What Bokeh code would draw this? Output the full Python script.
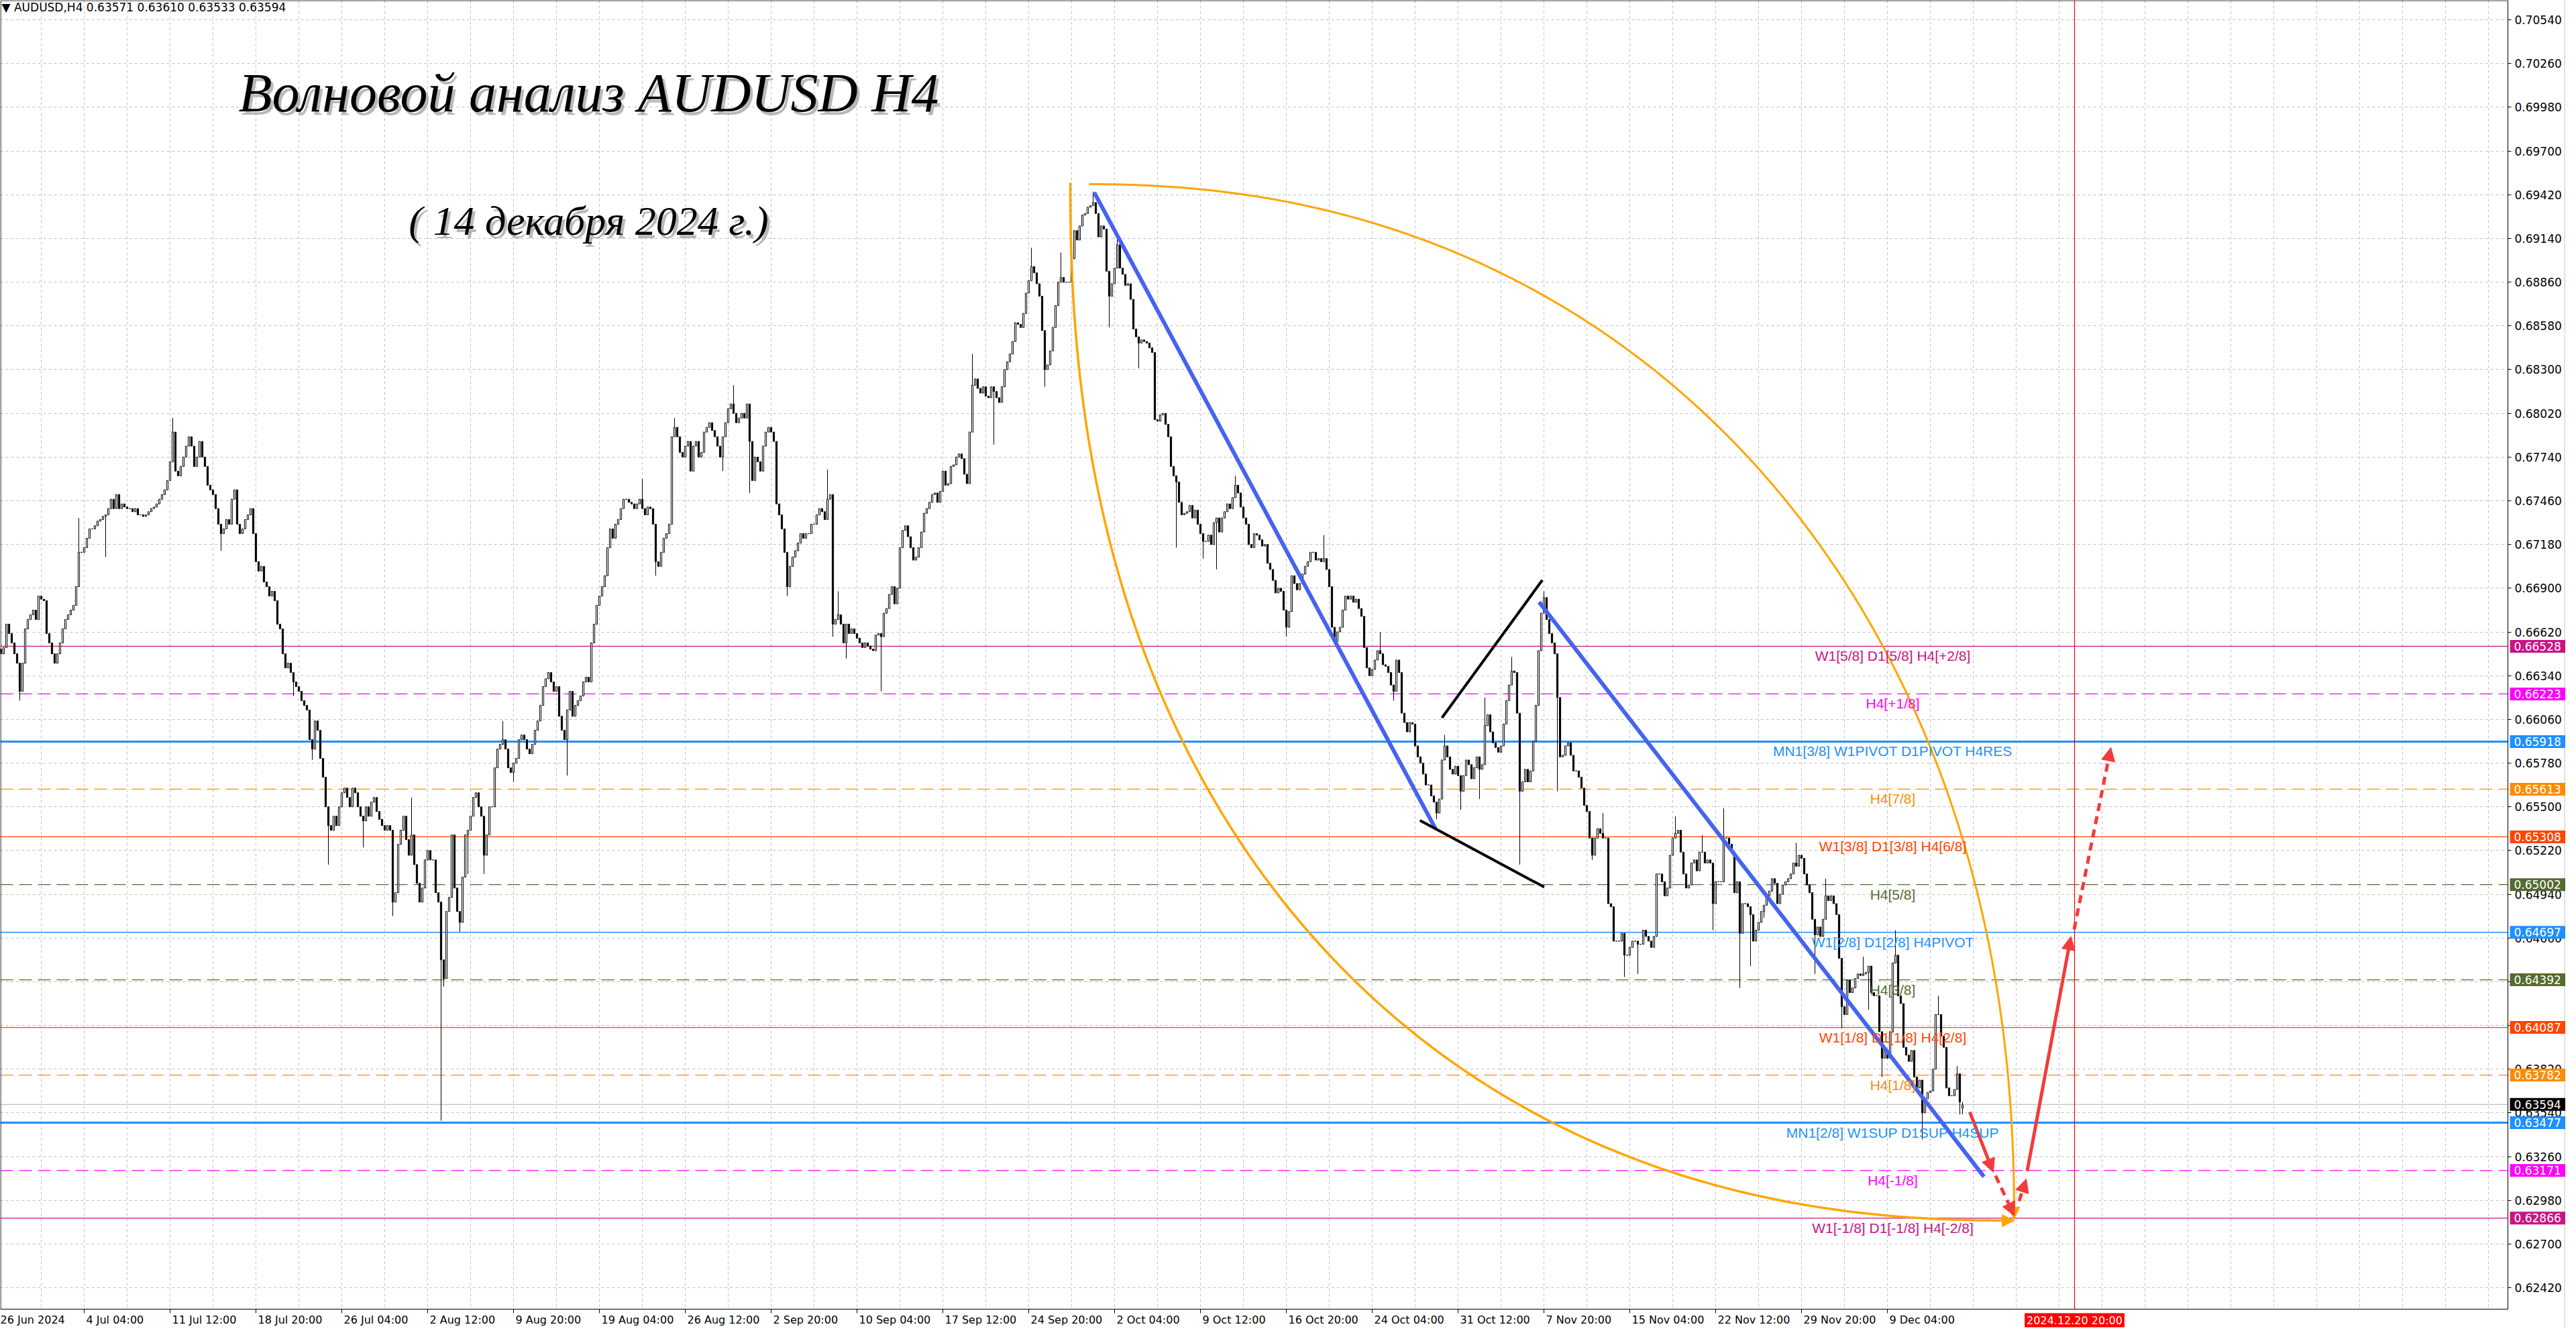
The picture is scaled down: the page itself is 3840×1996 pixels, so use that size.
import numpy as np
from bokeh.plotting import figure
from bokeh.models import (Range1d, FixedTicker, PrintfTickFormatter, Label, Arrow,
                          NormalHead, Span, ColumnDataSource)
from bokeh.embed import file_html
from bokeh.resources import INLINE

# ---------------- data (prices in 1e-4 units, one value per H4 bar) ----------------
OPEN0 = 6650
CLOSES = [
    6651, 6648, 6652, 6667, 6661, 6655, 6648, 6642, 6624, 6642, 6664, 6670, 6673, 6676, 6670, 6685,
    6683,
    6682, 6661, 6655, 6648, 6642, 6648, 6655, 6664, 6670, 6673, 6676, 6679, 6691, 6713, 6713, 6716,
    6722, 6728, 6728, 6730, 6733, 6734, 6736, 6737, 6741, 6747, 6741, 6750, 6741, 6744, 6742,
    6741,
    6741, 6739, 6741, 6737, 6737, 6736, 6737, 6739, 6741, 6742, 6744, 6747, 6750, 6753, 6759, 6771,
    6790, 6765, 6762, 6768, 6774, 6781, 6787, 6781, 6768, 6774, 6784, 6774, 6768, 6756,
    6753,
    6750, 6741, 6731, 6725, 6728, 6734, 6731, 6747, 6753, 6731, 6725, 6728, 6734, 6737, 6741, 6725,
    6707, 6701, 6704, 6694, 6691, 6685, 6688, 6682, 6667, 6664, 6648, 6639, 6642, 6636, 6630,
    6627,
    6624, 6618, 6615, 6612, 6593, 6587, 6605, 6599, 6581, 6569, 6550, 6538, 6535, 6544, 6538, 6550,
    6559, 6562, 6556, 6550, 6562, 6559, 6550, 6544, 6541, 6550, 6544, 6553, 6556, 6547,
    6542,
    6538, 6535, 6538, 6535, 6489, 6495, 6526, 6535, 6544, 6529, 6519, 6532, 6513, 6501, 6489, 6498,
    6516, 6522, 6516, 6516, 6495, 6489, 6452, 6440, 6483, 6492, 6532, 6498, 6483, 6476,
    6505,
    6532, 6535, 6544, 6556, 6559, 6550, 6544, 6519, 6532, 6550, 6550, 6575, 6587, 6590, 6593, 6587,
    6575, 6572, 6578, 6581, 6593, 6596, 6593, 6587, 6584, 6590, 6599, 6605, 6615, 6627,
    6632,
    6636, 6630, 6624, 6627, 6608, 6599, 6593, 6612, 6624, 6608, 6615, 6618, 6621, 6630, 6633, 6630,
    6655, 6667, 6679, 6685, 6691, 6698, 6716, 6728, 6722, 6731, 6734, 6741, 6747, 6747,
    6745,
    6744, 6741, 6744, 6747, 6741, 6737, 6742, 6741, 6731, 6707, 6704, 6713, 6722, 6725, 6731, 6787,
    6793, 6787, 6777, 6774, 6781, 6784, 6765, 6781, 6784, 6774, 6777, 6790, 6793, 6796,
    6791,
    6787, 6781, 6774, 6787, 6796, 6805, 6808, 6802, 6796, 6799, 6802, 6799, 6808, 6784, 6759, 6774,
    6771, 6765, 6781, 6790, 6793, 6790, 6784, 6744, 6737, 6728, 6713, 6691, 6704, 6710,
    6714,
    6719, 6725, 6722, 6725, 6725, 6731, 6731, 6737, 6741, 6739, 6734, 6747, 6750, 6667, 6670, 6673,
    6667, 6655, 6667, 6661, 6664, 6661, 6658, 6655,
    6652, 6655,
    6653, 6651, 6650, 6660, 6661, 6659, 6674, 6677, 6686, 6691,
    6680, 6690, 6716, 6727, 6730, 6723, 6716, 6708, 6710, 6716,
    6726, 6738, 6741, 6745, 6750, 6751, 6745, 6752, 6765, 6756,
    6757, 6768, 6769, 6774, 6776, 6773, 6763, 6757, 6790, 6820,
    6824, 6818, 6815, 6819, 6813, 6812, 6819, 6816, 6812, 6809,
    6819, 6830, 6835, 6840, 6848, 6860, 6859, 6857, 6866, 6879,
    6887, 6896, 6892, 6885, 6877, 6855, 6830, 6833, 6842, 6857,
    6871, 6886, 6889, 6886, 6886, 6886, 6901, 6919, 6913, 6922,
    6929, 6930, 6934, 6935, 6937, 6930, 6915, 6922, 6920, 6893,
    6877, 6885, 6895, 6910, 6895, 6891, 6884, 6885, 6875, 6856,
    6851, 6847, 6849, 6848, 6847, 6844, 6841, 6798, 6797, 6801,
    6802, 6795, 6787, 6768, 6762, 6758, 6745, 6737, 6738, 6739,
    6743, 6735, 6740, 6731, 6725, 6720, 6720, 6724, 6718, 6732,
    6735, 6726, 6735, 6739, 6744, 6741, 6748, 6756, 6751, 6742,
    6735, 6731, 6718, 6716, 6725, 6724, 6721, 6717, 6718, 6706,
    6702, 6695, 6687, 6690, 6688, 6676, 6665, 6675, 6698, 6693,
    6689, 6693, 6699, 6704, 6707, 6713, 6713, 6708, 6709, 6707,
    6709, 6702, 6691, 6665, 6656, 6662, 6665,
    6676,
    6685, 6683, 6685, 6681, 6683, 6677, 6672, 6652, 6639, 6634,
    6638, 6644, 6650, 6648, 6641, 6640, 6636, 6628, 6624, 6644,
    6636, 6610, 6604, 6598, 6604, 6603, 6589, 6582, 6578, 6571,
    6564, 6564, 6557, 6553, 6546, 6555, 6580, 6589, 6582, 6574,
    6571, 6576, 6570, 6560, 6570, 6580, 6577, 6568, 6575, 6582,
    6574, 6577, 6602, 6609, 6598, 6591, 6588, 6585, 6589, 6603,
    6618, 6628, 6637, 6636, 6610, 6560, 6566, 6574, 6566, 6573,
    6592, 6615, 6650, 6674, 6684, 6670, 6661, 6655, 6648, 6620,
    6582, 6583, 6589, 6591, 6583, 6573, 6573, 6569, 6562, 6551,
    6547, 6530, 6519, 6530, 6536, 6533, 6530,
    6530, 6488, 6486, 6464, 6464, 6464, 6469, 6455, 6455, 6460,
    6464, 6464, 6462, 6462, 6471, 6467, 6464, 6460, 6467, 6507,
    6507, 6502, 6493, 6498, 6519, 6530, 6533, 6535, 6521, 6507,
    6498, 6500, 6514, 6516, 6509, 6521, 6521, 6514, 6516, 6514,
    6488, 6502, 6502, 6502, 6530, 6530, 6526, 6521, 6495, 6502,
    6469, 6488, 6488, 6486, 6481, 6464, 6471, 6476, 6483, 6487,
    6493, 6496, 6504, 6501, 6488, 6494, 6500, 6502, 6504, 6507,
    6514, 6512, 6519, 6517, 6507, 6500, 6495, 6478, 6468, 6473,
    6467, 6478, 6493, 6490, 6493, 6488, 6481, 6453, 6422, 6417,
    6439, 6431, 6434, 6440, 6443, 6442, 6443, 6444, 6448, 6431,
    6429, 6429, 6406, 6389, 6394, 6389, 6406, 6450, 6455, 6429,
    6424, 6396, 6391, 6387, 6394, 6377, 6370, 6375, 6354, 6363,
    6367, 6368, 6382, 6417, 6417, 6403, 6396, 6370, 6365, 6365,
    6369, 6379, 6361, 6359,
]
LAST_OPEN = 6357
# wick extremes (bar index: price in 1e-4 units)
HIGH_EXT = {30: 6735, 65: 6799, 154: 6556, 188: 6605, 240: 6760, 252: 6799, 274: 6820,
            309: 6766, 313: 6688, 363: 6840, 385: 6908, 396: 6905, 408: 6944, 417: 6917,
            461: 6762, 494: 6724, 515: 6662, 539: 6596, 554: 6620, 564: 6646, 576: 6688,
            598: 6546, 625: 6544, 635: 6532, 643: 6549, 670: 6527, 681: 6504, 695: 6454,
            707: 6471, 723: 6429, 730: 6384, 732: 6361}
LOW_EXT = {8: 6618, 40: 6710, 83: 6714, 110: 6621, 117: 6580, 123: 6513, 136: 6524,
           147: 6480, 165: 6349, 166: 6435, 172: 6470, 175: 6507, 181: 6507, 192: 6566,
           212: 6570, 245: 6698, 270: 6765, 280: 6751, 294: 6685, 311: 6659, 316: 6645,
           329: 6624, 371: 6782, 390: 6819, 414: 6857, 425: 6831, 439: 6716, 449: 6709,
           454: 6702, 480: 6659, 520: 6618, 536: 6542, 545: 6548, 552: 6555, 567: 6513,
           581: 6560, 594: 6516, 606: 6441, 611: 6443, 639: 6471, 649: 6434, 653: 6448,
           658: 6479, 677: 6443, 687: 6408, 697: 6420, 702: 6377, 717: 6337, 731: 6353,
           732: 6353}

DATE_LABELS = ["26 Jun 2024", "4 Jul 04:00", "11 Jul 12:00", "18 Jul 20:00", "26 Jul 04:00",
               "2 Aug 12:00", "9 Aug 20:00", "19 Aug 04:00", "26 Aug 12:00", "2 Sep 20:00",
               "10 Sep 04:00", "17 Sep 12:00", "24 Sep 20:00", "2 Oct 04:00", "9 Oct 12:00",
               "16 Oct 20:00", "24 Oct 04:00", "31 Oct 12:00", "7 Nov 20:00", "15 Nov 04:00",
               "22 Nov 12:00", "29 Nov 20:00", "9 Dec 04:00"]
BARS_PER_DATE_LABEL = 32

PRICE_TICKS = [0.62420, 0.62700, 0.62980, 0.63260, 0.63540, 0.63820, 0.64100, 0.64380,
               0.64660, 0.64940, 0.65220, 0.65500, 0.65780, 0.66060, 0.66340, 0.66620,
               0.66900, 0.67180, 0.67460, 0.67740, 0.68020, 0.68300, 0.68580, 0.68860,
               0.69140, 0.69420, 0.69700, 0.69980, 0.70260, 0.70540]

LEVEL_PRICES = [0.66528, 0.66223, 0.65918, 0.65613, 0.65308, 0.65002, 0.64697,
                0.64392, 0.64087, 0.63782, 0.63477, 0.63171, 0.62866]
LEVEL_NAMES = ["W1[5/8] D1[5/8] H4[+2/8]", "H4[+1/8]", "MN1[3/8] W1PIVOT D1PIVOT H4RES",
               "H4[7/8]", "W1[3/8] D1[3/8] H4[6/8]", "H4[5/8]", "W1[2/8] D1[2/8] H4PIVOT",
               "H4[3/8]", "W1[1/8] D1[1/8] H4[2/8]", "H4[1/8]", "MN1[2/8] W1SUP D1SUP H4SUP",
               "H4[-1/8]", "W1[-1/8] D1[-1/8] H4[-2/8]"]
LEVEL_COLORS = ["#C71585", "#FF00FF", "#1E90FF", "#FF8C00", "#FF4500", "#556B2F", "#1E90FF",
                "#556B2F", "#FF4500", "#FF8C00", "#1E90FF", "#FF00FF", "#C71585"]
LEVEL_DASHED = [False, True, False, True, False, True, False, True, False, True, False, True, False]
LEVEL_WIDTHS = [1.3, 1.3, 3, 1.3, 1.3, 1.3, 1.5, 1.3, 1.3, 1.3, 3, 1.3, 1.3]
CURRENT_PRICE = 0.63594
FUTURE_BAR = 773.75
FUTURE_LABEL = "2024.12.20 20:00"

# drawn objects (bar, price anchors)
BLUE_LINES = [(408.4, 0.69435, 535.6, 0.65360), (574.2, 0.66812, 740.0, 0.63131)]
BLACK_LINES = [(538.0, 0.66070, 575.4, 0.66952), (529.8, 0.65413, 576.1, 0.64986)]
RED_ARROWS = [(734.7, 0.63546, 743.45, 0.63160, False),
              (744.3, 0.63138, 751.35, 0.62880, True),
              (753.1, 0.62975, 755.75, 0.63117, True),
              (756.1, 0.63167, 772.4, 0.64670, False),
              (773.6, 0.64715, 787.3, 0.65880, True)]
ARC_LOWER = dict(cx=751.25, cy=0.69496, rx=351.75, ry=0.066459, n=2.25)
ARC_UPPER = dict(cx=406.5, cy=0.62859, rx=344.75, ry=0.066287, n=2.15)

TITLE = "Волновой анализ AUDUSD H4"
SUBTITLE = "( 14 декабря 2024 г.)"
HEADER = "▼  AUDUSD,H4  0.63571 0.63610 0.63533 0.63594"

# chart window: bars area and the whole canvas (bars, prices)
X_CHART = (0.75, 935.25)
X_CANVAS = (0.75, 956.75)
Y_CHART = (0.62283, 0.70665)
Y_CANVAS = (0.621585, 0.70665)
PX_X = 0.25          # bars per screen pixel
PX_Y = 4.2962e-5     # price per screen pixel

# ---------------- figure ----------------
p = figure(width=3824, height=1980, x_range=Range1d(*X_CANVAS), y_range=Range1d(*Y_CANVAS),
           output_backend="svg", toolbar_location=None, y_axis_location="right",
           min_border_left=0, min_border_top=0, min_border_right=0, min_border_bottom=0,
           background_fill_color="white", border_fill_color="white")
p.outline_line_color = None

yax = p.yaxis[0]
yax.fixed_location = X_CHART[1]
yax.bounds = Y_CHART
yax.ticker = FixedTicker(ticks=PRICE_TICKS)
yax.formatter = PrintfTickFormatter(format="%.5f")
yax.major_label_text_font = "DejaVu Sans"
yax.major_label_text_font_size = "17px"
yax.major_label_text_color = "black"
yax.major_tick_out = 5
yax.major_tick_in = 0
yax.minor_tick_out = 0
yax.minor_tick_in = 0
yax.axis_line_color = "black"
yax.major_label_standoff = 5

# time scale: terminal labels start at their tick, so the axis labels are centred
# half a label width to the right of each tick (DejaVu Sans advance widths, em units)
date_ticks = [BARS_PER_DATE_LABEL * k for k in range(len(DATE_LABELS))]
ADV = {" ": 0.318, ":": 0.337, "J": 0.295, "u": 0.634, "n": 0.634, "l": 0.278, "A": 0.684,
       "g": 0.635, "S": 0.635, "e": 0.615, "p": 0.635, "O": 0.787, "c": 0.550, "t": 0.392,
       "N": 0.748, "o": 0.612, "v": 0.592, "D": 0.770}
DATE_FONT_PX = 16
label_centres = []
for tb, txt in zip(date_ticks, DATE_LABELS):
    w = DATE_FONT_PX * sum(ADV.get(ch, 0.636) for ch in txt)
    label_centres.append(round(tb + (3 + w / 2) * PX_X, 3))
xax = p.xaxis[0]
xax.fixed_location = Y_CHART[0]
xax.bounds = X_CHART
xax.ticker = FixedTicker(ticks=label_centres)
xax.major_label_overrides = {c: txt for c, txt in zip(label_centres, DATE_LABELS)}
xax.major_label_text_font = "DejaVu Sans"
xax.major_label_text_font_size = f"{DATE_FONT_PX}px"
xax.major_label_text_color = "black"
xax.major_label_standoff = 6
xax.major_tick_out = 0
xax.major_tick_in = 0
xax.minor_tick_out = 0
xax.minor_tick_in = 0
xax.axis_line_color = "black"

p.ygrid.ticker = FixedTicker(ticks=PRICE_TICKS)
p.xgrid.ticker = FixedTicker(ticks=list(range(0, 944, BARS_PER_DATE_LABEL // 2)))
p.grid.grid_line_color = "#C0C0C0"
p.grid.grid_line_dash = "4 4"
p.grid.grid_line_width = 1

# level lines
for pr, col, dsh, w in zip(LEVEL_PRICES, LEVEL_COLORS, LEVEL_DASHED, LEVEL_WIDTHS):
    p.add_layout(Span(location=pr, dimension="width", line_color=col, line_width=w,
                      line_dash="19 9" if dsh else "solid", level="underlay"))
p.add_layout(Span(location=CURRENT_PRICE, dimension="width", line_color="#C0C0C0",
                  line_width=1.3, level="underlay"))
p.add_layout(Span(location=FUTURE_BAR, dimension="height", line_color="#FF0000",
                  line_width=1.2, level="underlay"))

# blank the scale strips (right price scale, bottom time scale)
p.quad(left=[X_CHART[1], X_CANVAS[0]], right=[X_CANVAS[1], X_CANVAS[1]],
       bottom=[Y_CANVAS[0], Y_CANVAS[0]], top=[Y_CANVAS[1], Y_CHART[0]],
       fill_color="white", line_color=None)
# window edge (light grey) and chart frame
p.quad(left=[X_CANVAS[1] - 0.5], right=[X_CANVAS[1]], bottom=[Y_CANVAS[0]], top=[Y_CANVAS[1]],
       fill_color="#D8D8D8", line_color=None)
p.quad(left=[X_CHART[0] + 0.15], right=[X_CHART[1]], bottom=[Y_CHART[0]],
       top=[Y_CHART[1] - 0.00002], fill_color=None, line_color="black", line_width=1)
# time scale tick marks at the date positions
p.segment(x0=date_ticks, y0=[Y_CHART[0]] * len(date_ticks), x1=date_ticks,
          y1=[Y_CHART[0] - 6 * PX_Y] * len(date_ticks), line_color="black", line_width=1)

# candles
closes = np.array(CLOSES, dtype=float) / 1e4
opens = np.concatenate([[OPEN0 / 1e4], closes[:-1]])
opens[-1] = LAST_OPEN / 1e4
highs = np.maximum(opens, closes)
lows = np.minimum(opens, closes)
for k, v in HIGH_EXT.items():
    highs[k] = max(highs[k], v / 1e4)
for k, v in LOW_EXT.items():
    lows[k] = min(lows[k], v / 1e4)
idx = np.arange(len(closes))
src = ColumnDataSource(dict(x=idx, top=np.maximum(opens, closes), bottom=np.minimum(opens, closes),
                            high=highs, low=lows,
                            fill=["white" if c >= o else "black" for o, c in zip(opens, closes)]))
p.segment(x0="x", y0="low", x1="x", y1="high", source=src, line_color="black", line_width=1)
p.vbar(x="x", top="top", bottom="bottom", width=0.55, fill_color="fill", line_color="black",
       line_width=1, source=src)

# arcs
ORANGE = "#FFA500"
t = np.linspace(0, np.pi / 2, 300)
a = ARC_LOWER
u = np.cos(t) ** (2 / a["n"]); v = np.sin(t) ** (2 / a["n"])
p.line(a["cx"] - a["rx"] * u, a["cy"] - a["ry"] * v, line_color=ORANGE, line_width=3.5)
b = ARC_UPPER
u = np.cos(t) ** (2 / b["n"]); v = np.sin(t) ** (2 / b["n"])
p.line(b["cx"] + b["rx"] * u, b["cy"] + b["ry"] * v, line_color=ORANGE, line_width=3)
p.add_layout(Arrow(end=NormalHead(size=18, fill_color=ORANGE, line_color=ORANGE),
                   x_start=a["cx"] - 3, y_start=a["cy"] - a["ry"], x_end=a["cx"], y_end=a["cy"] - a["ry"],
                   line_color=ORANGE, line_width=3))
p.add_layout(Arrow(end=NormalHead(size=18, fill_color=ORANGE, line_color=ORANGE),
                   x_start=b["cx"] + b["rx"] - 0.3, y_start=b["cy"] + 0.0012,
                   x_end=b["cx"] + b["rx"], y_end=b["cy"], line_color=ORANGE, line_width=3))

# trend lines
for x0, y0, x1, y1 in BLUE_LINES:
    p.line([x0, x1], [y0, y1], line_color="#4564EE", line_width=6)
for x0, y0, x1, y1 in BLACK_LINES:
    p.line([x0, x1], [y0, y1], line_color="black", line_width=4)

RED = "#F23C3C"
for x0, y0, x1, y1, dsh in RED_ARROWS:
    p.add_layout(Arrow(end=NormalHead(size=20, fill_color=RED, line_color=RED),
                       x_start=x0, y_start=y0, x_end=x1, y_end=y1, line_color=RED,
                       line_width=5, line_dash="12 8" if dsh else "solid"))

# level names
for pr, name, col in zip(LEVEL_PRICES, LEVEL_NAMES, LEVEL_COLORS):
    p.add_layout(Label(x=706, y=pr, y_offset=-3, text=name, text_align="center",
                       text_baseline="top", text_font="Liberation Sans",
                       text_font_size="21px", text_color=col))

# price boxes on the price scale
for pr, col in list(zip(LEVEL_PRICES, LEVEL_COLORS)) + [(CURRENT_PRICE, "black")]:
    p.add_layout(Label(x=X_CHART[1] + 0.75, y=pr, text=f"{pr:.5f}", text_align="left",
                       text_baseline="middle", text_font="DejaVu Sans", text_font_size="17px",
                       text_color="white", background_fill_color=col,
                       padding=dict(left=6, right=8, top=3, bottom=3)))

# future time marker on the time scale
p.add_layout(Label(x=FUTURE_BAR, y=Y_CHART[0] - 6 * PX_Y, text=FUTURE_LABEL, text_align="center",
                   text_baseline="top", text_font="DejaVu Sans", text_font_size="16px",
                   text_color="white", background_fill_color="#FF0000",
                   padding=dict(left=3, right=3, top=1, bottom=1)))

# header and titles
p.add_layout(Label(x=1.25, y=0.70622, text=HEADER, text_align="left", text_baseline="middle",
                   text_font="DejaVu Sans", text_font_size="17px", text_color="black"))
for txt, yy, size in [(TITLE, 0.70072, "82px"), (SUBTITLE, 0.69255, "62px")]:
    p.add_layout(Label(x=220, y=yy, x_offset=4, y_offset=-5, text=txt, text_align="center",
                       text_baseline="alphabetic", text_font="Liberation Serif",
                       text_font_style="italic", text_font_size=size, text_color="#808080",
                       text_alpha=0.55))
    p.add_layout(Label(x=220, y=yy, text=txt, text_align="center", text_baseline="alphabetic",
                       text_font="Liberation Serif", text_font_style="italic",
                       text_font_size=size, text_color="black"))

open("out.html", "w").write(file_html(p, INLINE))
